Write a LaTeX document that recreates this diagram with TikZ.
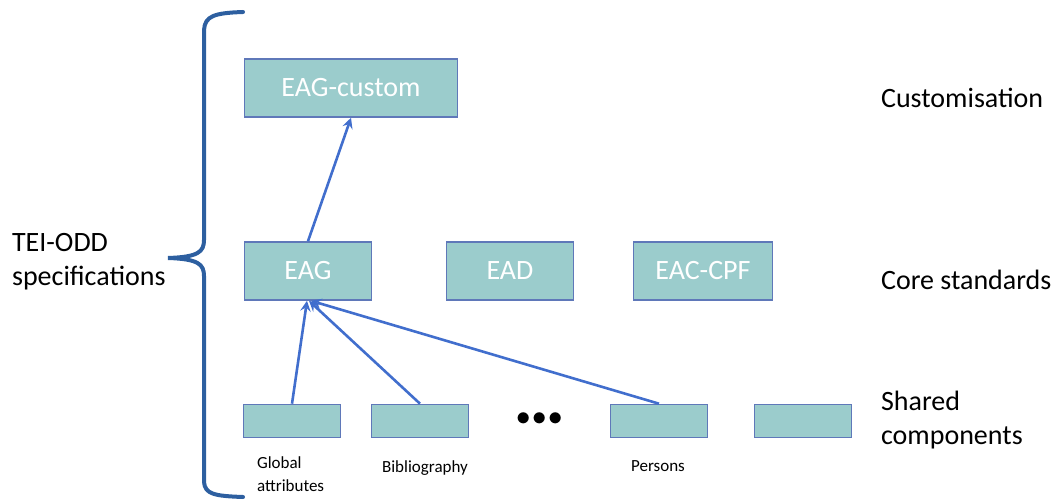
\documentclass[tikz,border=0pt]{standalone}
\usepackage{fontspec}
\setmainfont{Carlito}
\usetikzlibrary{arrows}

\definecolor{boxfill}{RGB}{155,204,204}
\definecolor{boxline}{RGB}{95,120,185}
\definecolor{arrowblue}{RGB}{65,110,205}
\definecolor{bracecol}{RGB}{45,95,160}

\begin{document}
\begin{tikzpicture}[x=0.5pt, y=-0.5pt,
    stdbox/.style={draw=boxline, line width=0.8pt, fill=boxfill, inner sep=0pt,
        text=white, font=\fontsize{14}{16}\selectfont},
    bigbox/.style={stdbox, minimum width=106.5pt, minimum height=29pt},
    corebox/.style={stdbox, minimum width=63.5pt, minimum height=29pt},
    smallbox/.style={stdbox, minimum width=48.5pt, minimum height=16.5pt},
    levellabel/.style={anchor=west, align=left, font=\fontsize{14}{17}\selectfont},
    complabel/.style={align=left, font=\fontsize{8.5}{11.5}\selectfont},
    uses/.style={->, >=stealth, arrowblue, line width=1.3pt}]
    \useasboundingbox (0,0) rectangle (1060,502);

    % Brace
    \draw[bracecol, line width=2pt, line cap=round]
        (243,12) .. controls (214,13) and (205,16) .. (204,30) -- (204,240)
        .. controls (204,252) and (198,257) .. (168,258)
        .. controls (198,259) and (204,264) .. (204,276) -- (204,482)
        .. controls (205,494) and (214,496) .. (243,497);
    \node[levellabel] (tei) at (5,262) {TEI-ODD\\specifications};

    % Customisation
    \node[bigbox] (eagcustom) at (351,88) {EAG-custom};

    % Core standards
    \node[corebox] (eag) at (308,271) {EAG};
    \node[corebox] (ead) at (510,271) {EAD};
    \node[corebox, minimum width=69.5pt] (eaccpf) at (703,271) {EAC-CPF};

    % Shared components
    \node[smallbox] (global) at (292,421) {};
    \node[smallbox] (biblio) at (420,421) {};
    \node[smallbox] (persons) at (659,421) {};
    \node[smallbox] (other) at (803,421) {};
    \node[font=\fontsize{15}{15}\selectfont] (dots) at (540,419) {$\bullet\!\bullet\!\bullet$};

    \node[complabel, anchor=north west] (globallbl) at (250,450) {Global\\attributes};
    \node[complabel] (bibliolbl) at (425,468) {Bibliography};
    \node[complabel] (personslbl) at (658,466) {Persons};

    % Level labels
    \node[levellabel] (custlbl) at (874,98) {Customisation};
    \node[levellabel] (corelbl) at (874,280) {Core standards};
    \node[levellabel] (sharedlbl) at (874,420) {Shared\\components};

    % Arrows
    \draw[uses] (eag.north) -- (eagcustom.south);
    \draw[uses] (global.north) -- ([xshift=-0.5pt]eag.south);
    \draw[uses] (biblio.north) -- ([xshift=0.5pt]eag.south);
    \draw[uses] (persons.north) -- ([xshift=1.5pt]eag.south);
\end{tikzpicture}
\end{document}
